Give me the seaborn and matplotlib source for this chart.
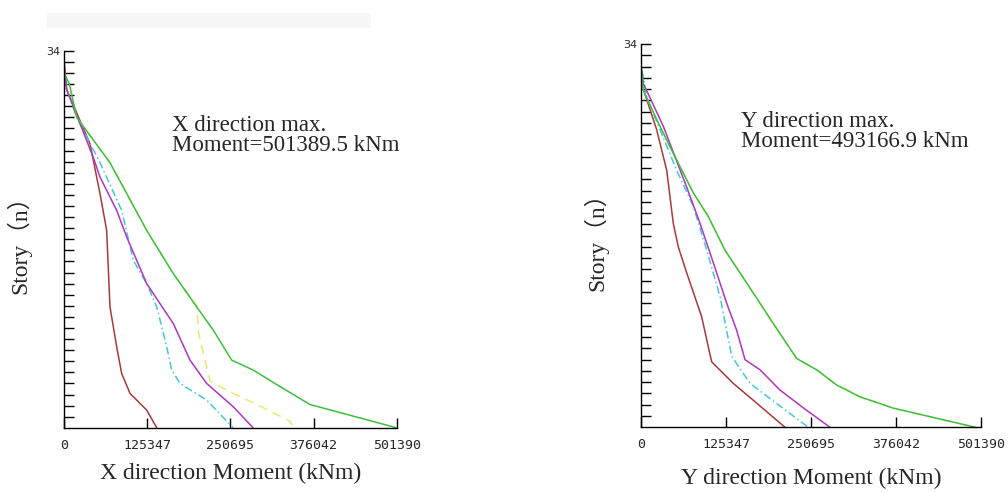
import numpy as np
import pandas as pd
import matplotlib
matplotlib.use("Agg")
import matplotlib.pyplot as plt
import seaborn as sns

# ---- data: (story, moment in kNm) ----
x_ticks = [0, 125347, 250695, 376042, 501390]
x_tick_labels = ["0", "125347", "250695", "376042", "501390"]

# X direction
x_red_story = [33, 30.5, 25.6, 21.1, 17.8, 10.9, 7.3, 4.9, 3.1, 1.6, 0]
x_red_mom = [0, 4000, 39200, 54300, 64300, 69300, 79400, 86900, 99500, 124600, 139800]

x_mag_story = [33, 30.5, 24.4, 22.6, 19.6, 17.2, 13.0, 9.4, 6.1, 4.0, 1.9, 0]
x_mag_mom = [0, 4000, 44000, 54300, 79400, 94500, 124600, 164700, 189900, 215000, 255000, 285000]

x_cyan_story = [33, 30.5, 28.0, 23.9, 19.6, 15.1, 13.0, 10.9, 7.3, 5.2, 4.0, 2.5, 0]
x_cyan_mom = [0, 4000, 19100, 54300, 86900, 104400, 124600, 139800, 154800, 162300, 174800, 215000, 255000]

x_yel_story = [33, 30.5, 28.0, 23.9, 17.8, 13.9, 11.0, 8.5, 4.2, 3.1, 2.1, 0.6, 0]
x_yel_mom = [0, 5000, 19100, 69300, 124600, 164700, 200000, 203000, 220000, 255000, 290700, 340600, 345700]

x_grn_story = [34, 32, 31, 28.0, 23.9, 17.8, 13.9, 10.9, 8.8, 6.1, 5.2, 3.9, 2.1, 0]
x_grn_mom = [0, 0, 8000, 19100, 69300, 124600, 164700, 200000, 225000, 252700, 285300, 320500, 370700, 501390]

# Y direction
y_red_story = [32, 30, 26.4, 22.8, 18.1, 16.0, 13.7, 9.8, 7.15, 5.8, 3.9, 2.4, 0]
y_red_mom = [0, 3400, 23100, 37900, 47600, 55000, 67400, 89500, 99200, 104300, 136000, 165600, 212400]

y_mag_story = [32, 30.5, 26.7, 21.3, 18.1, 14.6, 11.0, 8.6, 6.0, 5.1, 3.3, 1.5, 0]
y_mag_mom = [0, 3400, 32900, 67400, 87000, 106600, 126400, 141100, 153400, 175500, 205000, 244400, 278700]

y_cyan_story = [33, 32.3, 29.3, 26.4, 22.8, 19.6, 15.7, 11.6, 6.3, 3.9, 2.1, 0]
y_cyan_mom = [0, 0, 8400, 28000, 52600, 77100, 96900, 116500, 133800, 160700, 200200, 246800]

y_yel_story = [33, 29.9, 27.3, 24.3, 20.8, 18.7, 15.7, 12.8, 9.2, 6.1, 5.1, 3.75, 2.7, 1.7, 0]
y_yel_mom = [0, 3400, 23100, 47600, 77100, 99200, 123900, 155900, 195100, 229600, 259100, 288600, 323000, 372100, 493167]

y_grn_story = [34, 32, 29.9, 27.3, 24.3, 20.8, 18.7, 15.7, 12.8, 9.2, 6.1, 5.1, 3.75, 2.7, 1.7, 0]
y_grn_mom = [0, 0, 3400, 23100, 47600, 77100, 99200, 123900, 155900, 195100, 229600, 259100, 288600, 323000, 372100, 493167]

# colour / dash per series
styles = {
    "red": ("#a83a3a", "-"),
    "yellow": ("#e6ea70", (0, (6, 4))),
    "cyan": ("#45c8d8", (0, (5, 2, 1, 2))),
    "magenta": ("#b035c0", "-"),
    "green": ("#3cc03c", "-"),
}

panels = [
    {
        "series": {
            "red": (x_red_story, x_red_mom),
            "yellow": (x_yel_story, x_yel_mom),
            "cyan": (x_cyan_story, x_cyan_mom),
            "magenta": (x_mag_story, x_mag_mom),
            "green": (x_grn_story, x_grn_mom),
        },
        "rect": [64 / 1008, 1 - 427.8 / 492, 332.7 / 1008, 377.1 / 492],
        "xlabel": "X direction Moment (kNm)",
        "note": "X direction max.\nMoment=501389.5 kNm",
        "note_xy": (0.325, 0.83),
        "xlabel_pad": 8,
    },
    {
        "series": {
            "red": (y_red_story, y_red_mom),
            "yellow": (y_yel_story, y_yel_mom),
            "cyan": (y_cyan_story, y_cyan_mom),
            "magenta": (y_mag_story, y_mag_mom),
            "green": (y_grn_story, y_grn_mom),
        },
        "rect": [641 / 1008, 1 - 427.3 / 492, 340 / 1008, 383.3 / 492],
        "xlabel": "Y direction Moment (kNm)",
        "note": "Y direction max.\nMoment=493166.9 kNm",
        "note_xy": (0.295, 0.825),
        "xlabel_pad": 12,
    },
]

sns.set_style("white")
serif = ["Liberation Serif", "Noto Sans CJK SC"]

fig = plt.figure(figsize=(10.08, 4.92), dpi=100)

# faint grey strip at the top left
fig.patches.append(plt.Rectangle((47 / 1008, 1 - 27 / 492), 323 / 1008, 14 / 492,
                                 transform=fig.transFigure, color="#f7f7f9", zorder=0))

for p in panels:
    ax = fig.add_axes(p["rect"])
    for name, (story, mom) in p["series"].items():
        color, ls = styles[name]
        df = pd.DataFrame({"story": story, "moment": mom})
        sns.lineplot(data=df, x="moment", y="story", sort=False, estimator=None,
                     color=color, linestyle=ls, linewidth=1.1, ax=ax)

    ax.set_xlim(0, 501390)
    ax.set_ylim(0, 34)
    sns.despine(ax=ax)
    for s in ["left", "bottom"]:
        ax.spines[s].set_color("black")
        ax.spines[s].set_linewidth(1.0)

    ax.set_xticks(x_ticks)
    ax.set_xticklabels(x_tick_labels, family="DejaVu Sans Mono", fontsize=9.5)
    ax.set_yticks(np.arange(1, 35))
    ax.set_yticklabels([""] * 33 + ["34"], family="DejaVu Sans", fontsize=8)
    ax.tick_params(axis="both", direction="in", length=7, width=1, color="black",
                   left=True, bottom=True, pad=3)
    ax.tick_params(axis="x", pad=8)

    ax.set_xlabel(p["xlabel"], family=serif, fontsize=17, labelpad=p["xlabel_pad"])
    ax.set_ylabel("Story（n）", family=serif, fontsize=17, labelpad=10)
    ax.text(p["note_xy"][0], p["note_xy"][1], p["note"], transform=ax.transAxes,
            family=serif, fontsize=16.5, va="top", ha="left", linespacing=0.95)

fig.savefig("out.png", dpi=100)
